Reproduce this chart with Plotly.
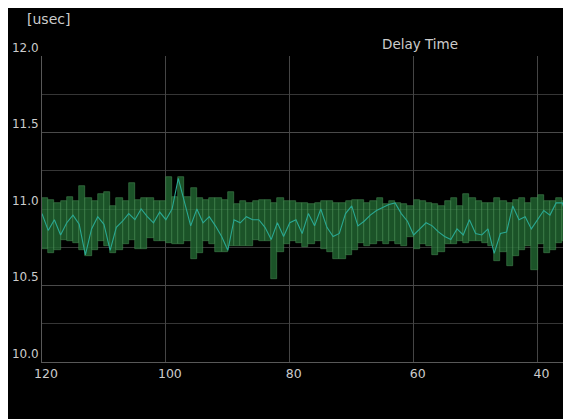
import plotly.graph_objects as go

# Bars: each bar covers [x-1, x] on the reversed axis
bar_x = list(range(120, 34, -1))          # 86 bars
# Average line vertices at integer x positions
line_x = list(range(120, 33, -1))         # 87 points

hi_vals = [11.07, 11.06, 11.04, 11.05, 11.08, 11.05, 11.15, 11.07, 11.05, 11.10,
           11.11, 11.02, 11.07, 11.05, 11.17, 11.06, 11.07,
           11.07, 11.05, 11.05, 11.21, 11.08, 11.21, 11.08, 11.14, 11.07,
           11.06, 11.07, 11.07, 11.06, 11.11, 11.03, 11.05, 11.04,
           11.05, 11.06, 11.06, 11.04, 11.07, 11.05, 11.05, 11.04, 11.04,
           11.03, 11.04, 11.05, 11.05, 11.04, 11.04, 11.05, 11.06,
           11.06, 11.04, 11.05, 11.07, 11.03, 11.05, 11.04, 11.03, 11.02,
           11.06, 11.05, 11.04, 11.03, 11.02, 11.05, 11.07, 11.02, 11.10,
           11.07, 11.05, 11.04, 11.04, 11.07, 11.05, 11.04, 11.06, 11.07,
           11.04, 11.07, 11.09, 11.05, 11.05, 11.07, 11.05, 11.08]

lo_vals = [10.74, 10.71, 10.73, 10.80, 10.79, 10.78, 10.73, 10.69, 10.73, 10.79,
           10.76, 10.71, 10.73, 10.77, 10.80, 10.74, 10.74,
           10.81, 10.79, 10.79, 10.78, 10.77, 10.77, 10.79, 10.67, 10.71,
           10.79, 10.77, 10.72, 10.72, 10.76, 10.76, 10.76, 10.76,
           10.80, 10.79, 10.79, 10.54, 10.72, 10.77, 10.79, 10.78, 10.75,
           10.77, 10.79, 10.74, 10.72, 10.67, 10.67, 10.70, 10.73,
           10.78, 10.76, 10.77, 10.79, 10.77, 10.79, 10.77, 10.76, 10.82,
           10.74, 10.77, 10.76, 10.70, 10.72, 10.77, 10.77, 10.79, 10.78,
           10.79, 10.79, 10.78, 10.76, 10.66, 10.72, 10.63, 10.69, 10.73,
           10.76, 10.60, 10.77, 10.71, 10.73, 10.78, 10.79, 10.79]

avg_vals = [10.97, 10.86, 10.93, 10.83, 10.91, 10.96, 10.90, 10.70, 10.87, 10.95,
            10.90, 10.73, 10.88, 10.92, 10.97, 10.93, 11.00,
            10.95, 10.91, 10.98, 10.93, 11.00, 11.20, 11.04, 10.89, 11.00,
            10.91, 10.95, 10.89, 10.82, 10.73, 10.93, 10.91, 10.95,
            10.93, 10.93, 10.88, 10.80, 10.91, 10.82, 10.91, 10.93, 10.84,
            10.97, 10.89, 11.00, 10.88, 10.82, 10.84, 10.97, 11.02, 10.89,
            10.92, 10.96, 10.99, 11.01, 11.03, 11.04, 10.97, 10.92, 10.83,
            10.87, 10.91, 10.89, 10.85, 10.82, 10.80, 10.87, 10.83,
            10.93, 10.84, 10.83, 10.87, 10.71, 10.84, 10.85, 11.02, 10.93,
            10.95, 10.87, 10.93, 10.99, 10.96, 11.04, 11.04, 10.91, 10.89]

y_ticks = [10.0, 10.5, 11.0, 11.5, 12.0]
y_tick_text = ["10.0", "10.5", "11.0", "11.5", "12.0"]
x_ticks = [120, 100, 80, 60, 40]
x_tick_text = ["120", "100", "80", "60", "40"]

FONT = "DejaVu Sans, Verdana, sans-serif"
TXT = "#cccccc"

fig = go.Figure()
fig.add_trace(go.Bar(
    x=bar_x,
    y=[h - l for h, l in zip(hi_vals, lo_vals)],
    base=lo_vals,
    width=1.0,
    offset=-1.0,
    marker=dict(color="rgba(34,104,50,0.80)",
                line=dict(color="rgba(78,148,88,0.85)", width=0.6)),
    showlegend=False,
    hoverinfo="skip",
))
fig.add_trace(go.Scatter(
    x=line_x, y=avg_vals, mode="lines",
    line=dict(color="#2aa892", width=1.1),
    showlegend=False,
))

# page body adds an 8px offset, so the figure is 8px smaller on each used side
fig.update_layout(
    width=563, height=411,
    paper_bgcolor="#000000", plot_bgcolor="#000000",
    margin=dict(l=34, r=0, t=48, b=57),
    bargap=0,
    font=dict(family=FONT, color=TXT, size=12),
    showlegend=False,
    annotations=[
        dict(text="[usec]", xref="paper", yref="paper", x=-0.032, y=1.121,
             xanchor="left", yanchor="middle", showarrow=False,
             font=dict(size=14, color=TXT, family=FONT)),
        dict(text="Delay Time", xref="paper", yref="paper", x=0.7146, y=1.039,
             xanchor="center", yanchor="middle", showarrow=False,
             font=dict(size=13.5, color=TXT, family=FONT)),
    ],
)
fig.update_xaxes(
    range=[120, 34.6], autorange=False, automargin=False,
    tickvals=x_ticks, ticktext=x_tick_text,
    ticklabelshift=-4,
    showgrid=True, gridcolor="#454545", gridwidth=1,
    zeroline=False, showline=True, linecolor="#585858", linewidth=1,
    ticks="", tickfont=dict(size=12.5, color=TXT, family=FONT),
)
fig.update_yaxes(
    range=[10, 12], autorange=False, automargin=False,
    tickvals=y_ticks, ticktext=y_tick_text,
    ticklabelposition="outside top",
    showgrid=True, gridcolor="#4a4a4a", gridwidth=1,
    minor=dict(dtick=0.25, tick0=10, showgrid=True, gridcolor="#363636", gridwidth=1),
    zeroline=False, showline=True, linecolor="#585858", linewidth=1,
    ticks="", tickfont=dict(size=12, color=TXT, family=FONT),
)

fig.write_html("out.html")
